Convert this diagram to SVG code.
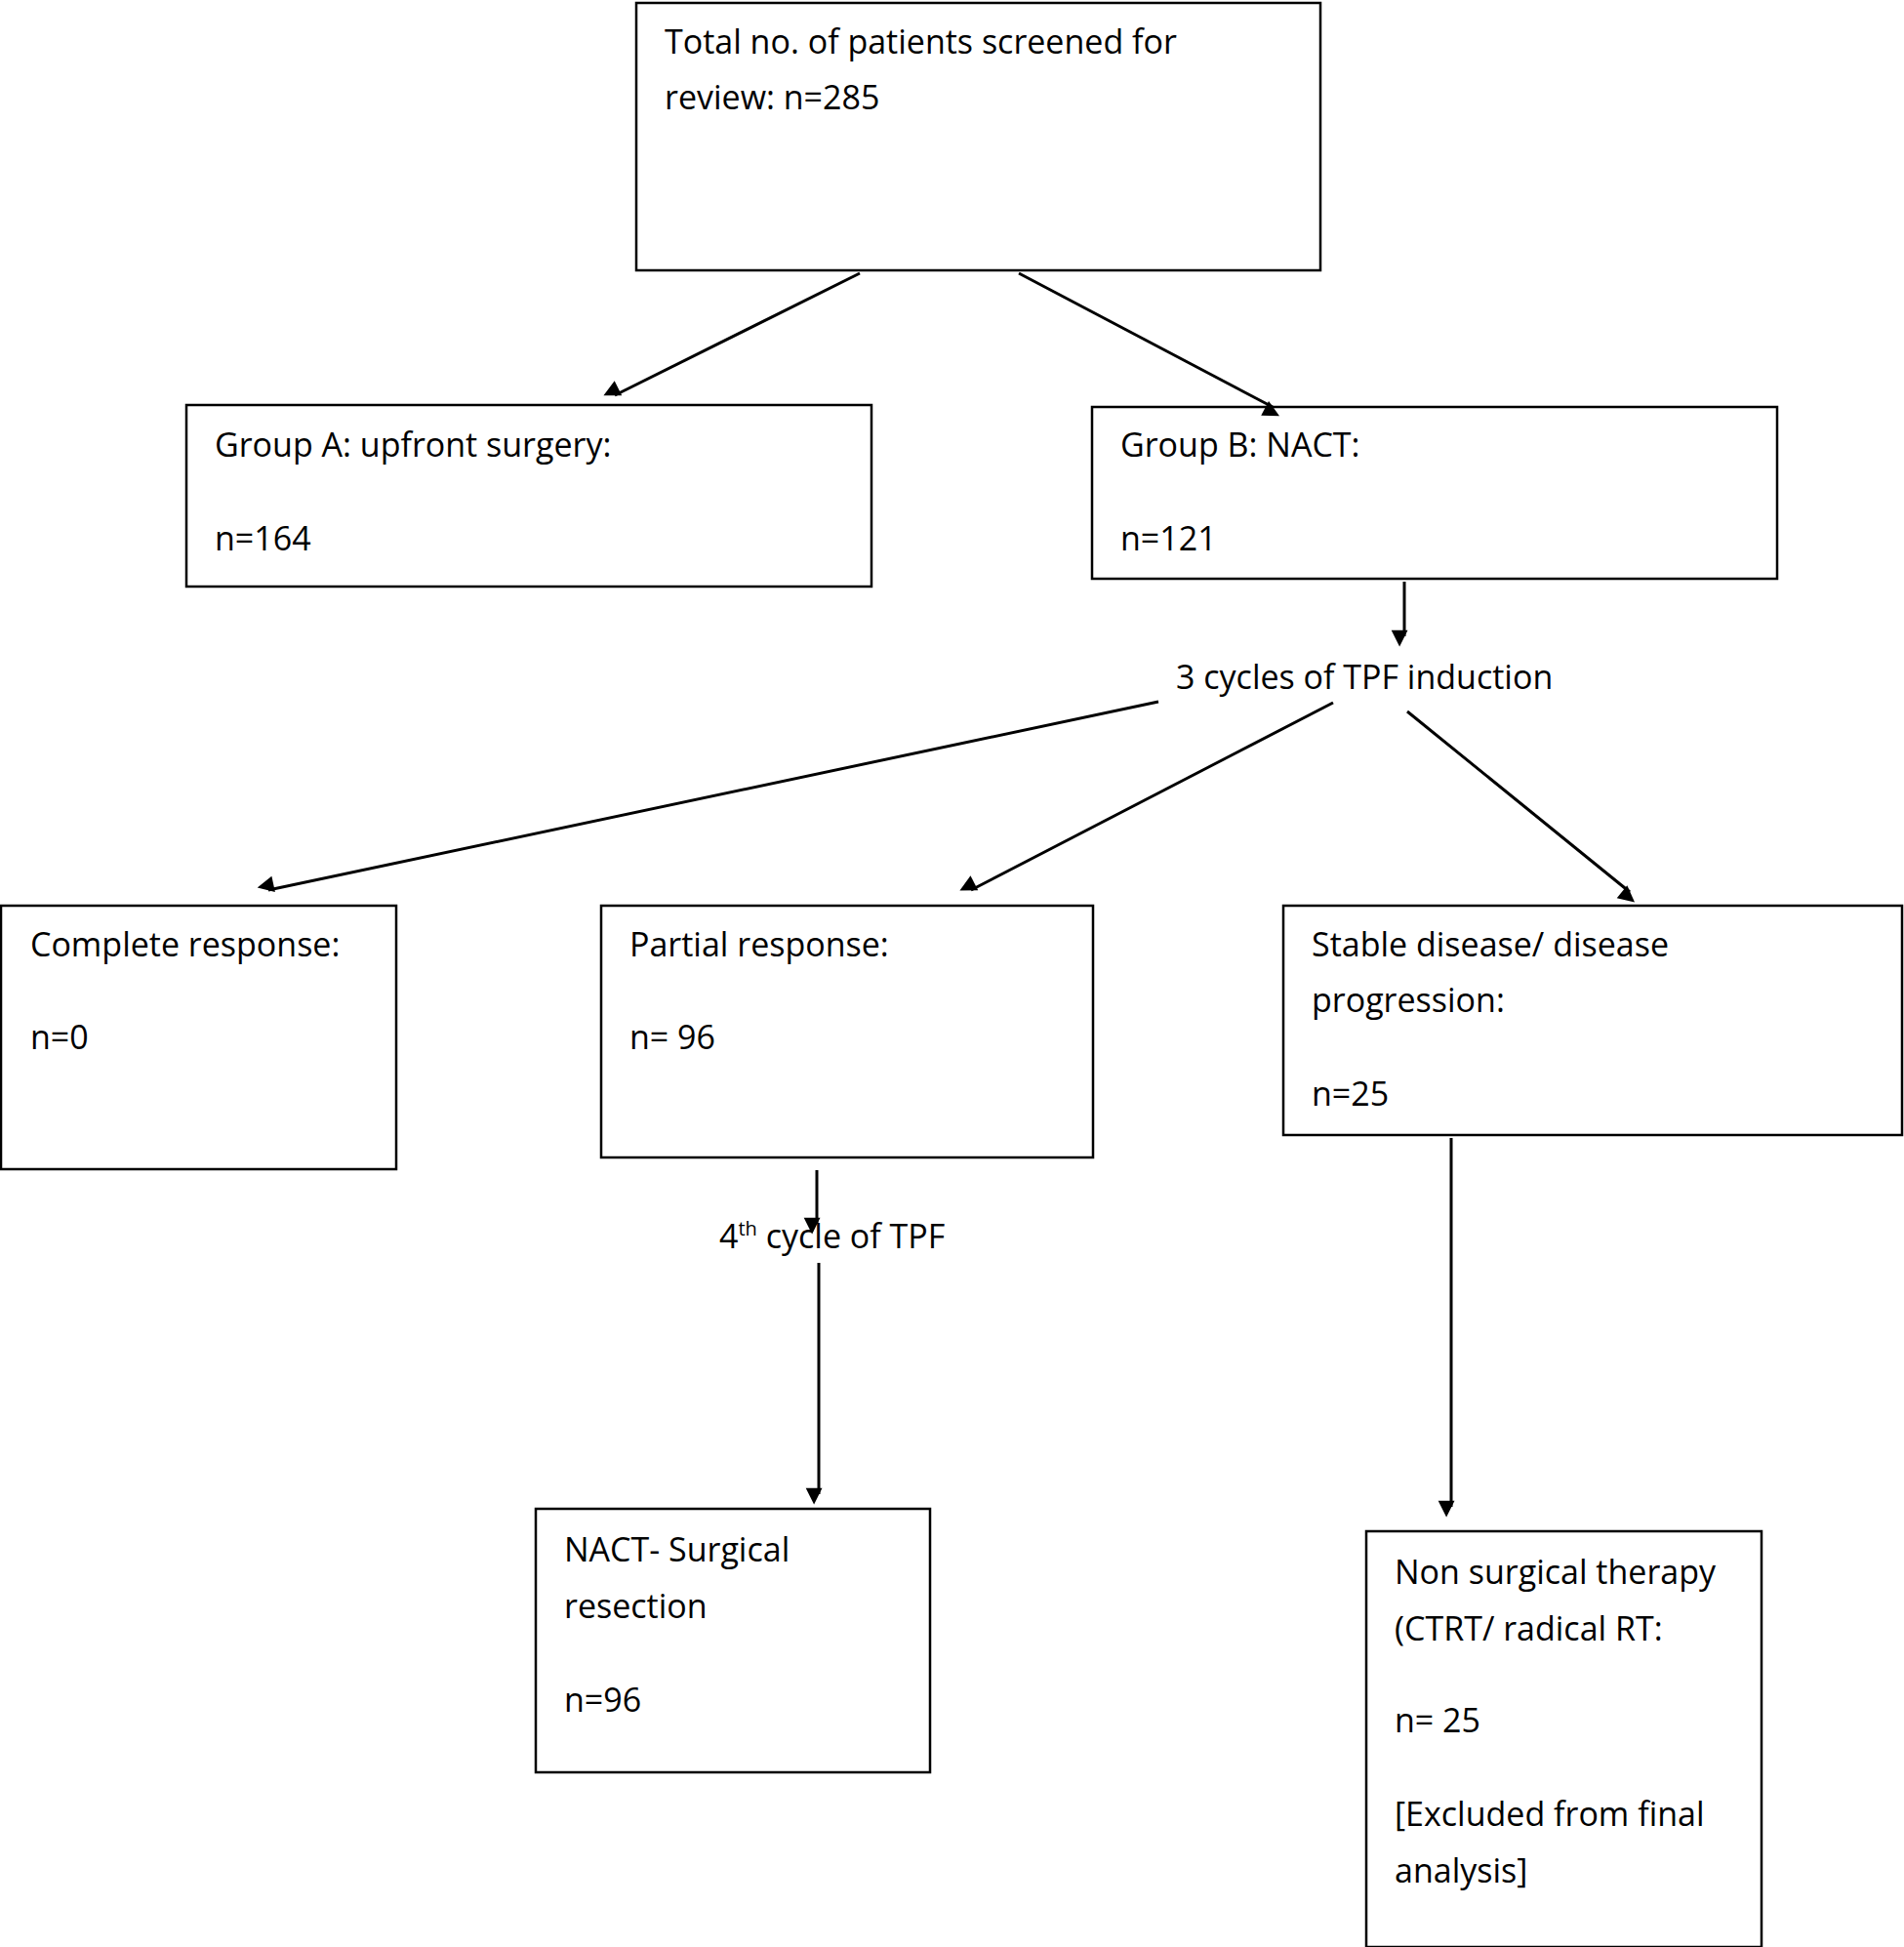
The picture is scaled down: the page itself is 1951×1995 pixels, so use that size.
<svg xmlns="http://www.w3.org/2000/svg" width="1951" height="1995" viewBox="0 0 1951 1995">
<style>
rect{fill:#fff;stroke:#000;stroke-width:2.5}
text{font-family:"Open Sans","Liberation Sans",sans-serif;font-size:34px;fill:#000}
.c line{stroke:#000;stroke-width:3;marker-end:url(#a)}
</style>
<defs><marker id="a" viewBox="0 0 10 10" refX="9" refY="5" markerWidth="7" markerHeight="7" markerUnits="userSpaceOnUse" orient="auto" style="overflow:visible"><path d="M0,0L10,5L0,10z" transform="scale(2.4) translate(-5,-5) translate(5,5)"/></marker></defs>
<rect x="0" y="0" width="1951" height="1995" style="stroke:none"/>
<g id="top"><rect x="652" y="3" width="701" height="274"/><text x="681" y="55">Total no. of patients screened for</text><text x="681" y="112">review: n=285</text></g>
<g id="groupA"><rect x="191" y="415" width="702" height="186"/><text x="220" y="468">Group A: upfront surgery:</text><text x="220" y="564">n=164</text></g>
<g id="groupB"><rect x="1119" y="417" width="702" height="176"/><text x="1148" y="468">Group B: NACT:</text><text x="1148" y="564">n=121</text></g>
<g id="induction"><text x="1205" y="706">3 cycles of TPF induction</text></g>
<g id="complete"><rect x="1" y="928" width="405" height="270"/><text x="31" y="980">Complete response:</text><text x="31" y="1075">n=0</text></g>
<g id="partial"><rect x="616" y="928" width="504" height="258"/><text x="645" y="980">Partial response:</text><text x="645" y="1075">n= 96</text></g>
<g id="stable"><rect x="1315" y="928" width="634" height="235"/><text x="1344" y="980">Stable disease/ disease</text><text x="1344" y="1037">progression:</text><text x="1344" y="1133">n=25</text></g>
<g id="fourth"><text x="737" y="1279">4<tspan font-size="20" dy="-13">th</tspan><tspan dy="13"> cycle of TPF</tspan></text></g>
<g id="nact"><rect x="549" y="1546" width="404" height="270"/><text x="578" y="1600">NACT- Surgical</text><text x="578" y="1658">resection</text><text x="578" y="1754">n=96</text></g>
<g id="nonsurg"><rect x="1400" y="1569" width="405" height="426"/><text x="1429" y="1623">Non surgical therapy</text><text x="1429" y="1681">(CTRT/ radical RT:</text><text x="1429" y="1775">n= 25</text><text x="1429" y="1871">[Excluded from final</text><text x="1429" y="1929">analysis]</text></g>
<g class="c" id="connectors">
<line x1="881" y1="280" x2="630" y2="405"/>
<line x1="1044" y1="280" x2="1304" y2="417"/>
<line x1="1439" y1="596" x2="1439" y2="652"/>
<line x1="1187" y1="719" x2="275" y2="912"/>
<line x1="1366" y1="720" x2="995" y2="912"/>
<line x1="1442" y1="729" x2="1670" y2="914"/>
<line x1="837" y1="1199" x2="837" y2="1254"/>
<line x1="839" y1="1294" x2="839" y2="1531"/>
<line x1="1487" y1="1166" x2="1487" y2="1544"/>
</g>
</svg>
